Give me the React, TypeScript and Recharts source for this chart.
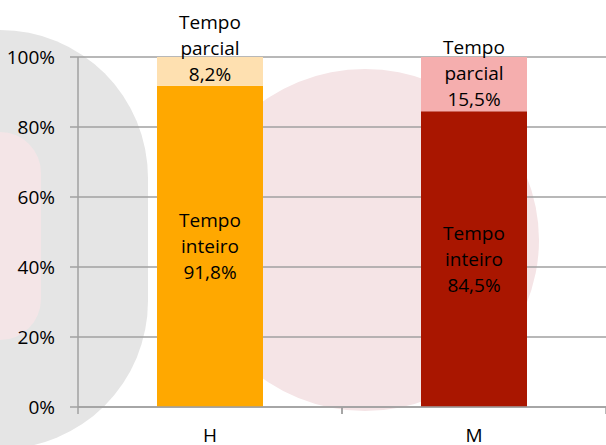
import React from 'react';
import { BarChart, Bar, XAxis, YAxis, CartesianGrid, Cell, LabelList } from 'recharts';

const categories = ['H', 'M'];
const tempoInteiro = [91.8, 84.5];
const tempoParcial = [8.2, 15.5];
const yTicks = [0, 20, 40, 60, 80, 100];

const inteiroColors = ['#ffa800', '#a91600'];
const parcialColors = ['#fee0b0', '#f5aeae'];

const data = categories.map((name, i) => ({
  name,
  inteiro: tempoInteiro[i],
  parcial: tempoParcial[i],
}));

const FONT = '"Open Sans", sans-serif';
const FONT_SIZE = 19;
const AXIS_COLOR = '#a0a0a0';

const fmt = (v: number) => v.toFixed(1).replace('.', ',') + '%';

// three-line label: "Tempo" / word / value
function makeLabel(word: string, top: boolean) {
  return (props: any) => {
    const { x, y, width, height, value } = props;
    const cx = x + width / 2;
    const last = top ? y + height - 12 : y + height / 2 + 26;
    const lines = ['Tempo', word, fmt(Number(value))];
    return (
      <g>
        {lines.map((t, i) => (
          <text
            key={i}
            x={cx}
            y={last - (2 - i) * 26}
            textAnchor="middle"
            dominantBaseline="central"
            fontFamily={FONT}
            fontSize={FONT_SIZE}
            fill="#000"
          >
            {t}
          </text>
        ))}
      </g>
    );
  };
}

// category label with tick marks on the band edges (Excel style)
const XTick = (props: any) => {
  const { x, y, payload } = props;
  const half = payload?.offset || 132;
  return (
    <g>
      <line x1={x - half} x2={x - half} y1={y} y2={y + 7} stroke={AXIS_COLOR} strokeWidth={1.5} />
      <line x1={x + half} x2={x + half} y1={y} y2={y + 7} stroke={AXIS_COLOR} strokeWidth={1.5} />
      <text x={x} y={y + 28} textAnchor="middle" dominantBaseline="central" fontFamily={FONT} fontSize={FONT_SIZE} fill="#000">
        {payload.value}
      </text>
    </g>
  );
};

export default function App() {
  return (
    <div style={{ position: 'absolute', left: 0, top: 0, width: 606, height: 445, overflow: 'hidden', background: '#fff' }}>
      <svg width={606} height={445} style={{ position: 'absolute', left: 0, top: 0 }}>
        <rect x={-148} y={30} width={296} height={419} rx={148} ry={148} fill="#e5e5e5" />
        <rect x={-41} y={132} width={82} height={208} rx={41} ry={41} fill="#f4e5e7" />
        <ellipse cx={365} cy={240} rx={174} ry={171} fill="#f5e4e6" />
      </svg>
      <div style={{ position: 'absolute', left: 0, top: 0 }}>
        <BarChart
          width={606}
          height={445}
          data={data}
          margin={{ top: 57, right: 0, left: 0, bottom: 0 }}
          barSize={106}
        >
          <CartesianGrid vertical={false} stroke={AXIS_COLOR} strokeWidth={1.5} />
          <XAxis
            dataKey="name"
            height={38}
            axisLine={{ stroke: AXIS_COLOR, strokeWidth: 1.5 }}
            tickLine={false}
            tickSize={0}
            tickMargin={0}
            tick={<XTick />}
            interval={0}
          />
          <YAxis
            width={78}
            domain={[0, 100]}
            ticks={yTicks}
            tickFormatter={(v: number) => v + '%'}
            axisLine={{ stroke: AXIS_COLOR, strokeWidth: 1.5 }}
            tickLine={{ stroke: AXIS_COLOR, strokeWidth: 1.5 }}
            tickSize={8}
            tickMargin={15}
            tick={{ fontFamily: FONT, fontSize: FONT_SIZE, fill: '#000' }}
          />
          <Bar dataKey="inteiro" stackId="a" isAnimationActive={false}>
            {data.map((_, i) => (
              <Cell key={i} fill={inteiroColors[i]} />
            ))}
            <LabelList dataKey="inteiro" content={makeLabel('inteiro', false)} />
          </Bar>
          <Bar dataKey="parcial" stackId="a" isAnimationActive={false}>
            {data.map((_, i) => (
              <Cell key={i} fill={parcialColors[i]} />
            ))}
            <LabelList dataKey="parcial" content={makeLabel('parcial', true)} />
          </Bar>
        </BarChart>
      </div>
    </div>
  );
}
